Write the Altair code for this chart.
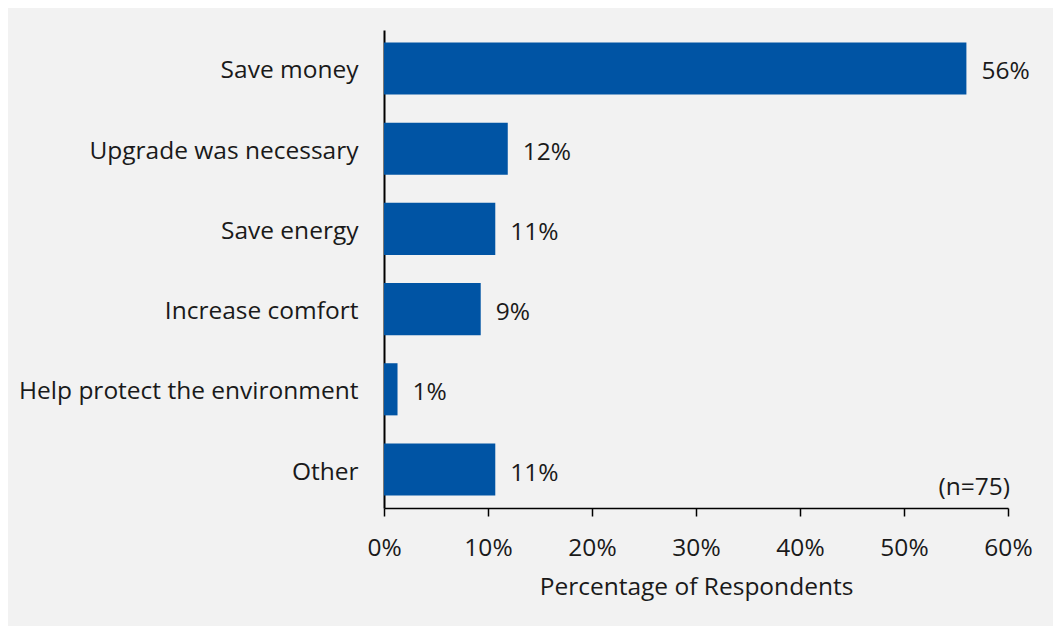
import altair as alt
import pandas as pd

categories = ["Save money", "Upgrade was necessary", "Save energy",
              "Increase comfort", "Help protect the environment", "Other"]
values = [56.0, 11.9, 10.7, 9.3, 1.3, 10.7]
labels = ["56%", "12%", "11%", "9%", "1%", "11%"]
note = "(n=75)"

df = pd.DataFrame({"cat": categories, "val": values, "lab": labels})

FONT = "Open Sans"
FS = 24.5
TXT = "#1a1a1a"
y_enc = alt.Y("cat:N", sort=categories, title=None,
              scale=alt.Scale(paddingInner=0.35, paddingOuter=0.155),
              axis=alt.Axis(domainColor="black", domainWidth=2, ticks=False,
                            labelPadding=26, labelFontSize=FS, labelColor=TXT,
                            labelFont=FONT, labelLimit=400, labelOffset=3))
x_enc = alt.X("val:Q", title="Percentage of Respondents",
              scale=alt.Scale(domain=[0, 60], nice=False),
              axis=alt.Axis(values=[0, 10, 20, 30, 40, 50, 60],
                            labelExpr="datum.value + '%'", labelFlush=False,
                            grid=False, domainColor="black", domainWidth=1.5,
                            tickColor="black", tickSize=8, tickWidth=1.5,
                            labelPadding=20, labelFontSize=FS, labelColor=TXT,
                            labelFont=FONT, titleFont=FONT, titleFontSize=FS,
                            titleFontWeight="normal", titleColor=TXT,
                            titlePadding=16))

bars = alt.Chart(df).mark_bar(color="#0054a4").encode(x=x_enc, y=y_enc)
text = alt.Chart(df).mark_text(align="left", dx=15, dy=4, fontSize=FS, font=FONT,
                               color=TXT).encode(
    x="val:Q", y=alt.Y("cat:N", sort=categories), text="lab:N")
ann = alt.Chart(pd.DataFrame({"t": [note]})).mark_text(
    align="right", baseline="middle", fontSize=FS, font=FONT, color=TXT
).encode(x=alt.value(626), y=alt.value(458), text="t:N")

chart = (bars + text + ann).properties(
    width=624, height=478,
    background="#f2f2f2",
    padding={"left": 376, "top": 22, "right": 45, "bottom": 118},
    autosize=alt.AutoSizeParams(type="none"),
).configure_view(stroke=None)

chart.save("out.html", embed_options={"renderer": "svg", "actions": False})
